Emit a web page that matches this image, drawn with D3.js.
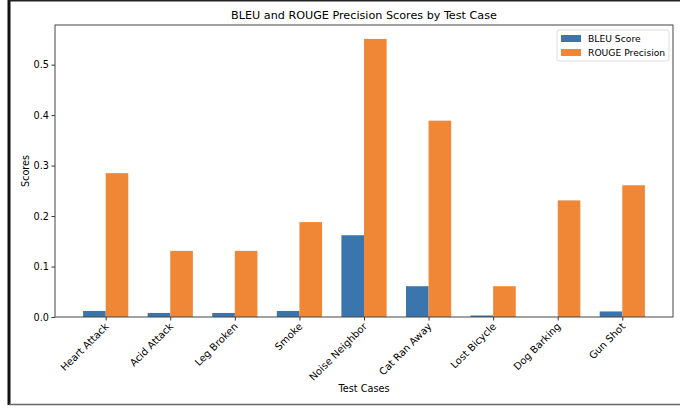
<!DOCTYPE html>
<html>
<head>
<meta charset="utf-8">
<script src="https://cdn.jsdelivr.net/npm/d3@7"></script>
<style>
  body { margin: 0; background: #fff; }
  svg, svg text { font-family: "DejaVu Sans", sans-serif; }
</style>
</head>
<body>
<svg id="chart" width="694" height="409"></svg>
<script>
// test cases and scores
var testCases = ['Heart Attack', 'Acid Attack', 'Leg Broken', 'Smoke', 'Noise Neighbor',
  'Cat Ran Away', 'Lost Bicycle', 'Dog Barking', 'Gun Shot'];
var bleuScores = [0.012, 0.008, 0.008, 0.012, 0.162, 0.061, 0.003, 0.0, 0.011];
var rougePrecision = [0.285, 0.131, 0.131, 0.188, 0.551, 0.389, 0.061, 0.231, 0.261];
var yTicks = [0.0, 0.1, 0.2, 0.3, 0.4, 0.5];
var seriesNames = ['BLEU Score', 'ROUGE Precision'];
var colors = ['#3a75ae', '#ef8736'];

var svg = d3.select('#chart');
var margin = { left: 55, right: 21, top: 25, bottom: 92 };
var w = 694 - margin.left - margin.right;
var h = 409 - margin.top - margin.bottom;
var barW = 0.35;

// screenshot frame around the figure
svg.append('line').attr('x1', 9).attr('x2', 9).attr('y1', 0).attr('y2', 405)
  .attr('stroke', '#111').attr('stroke-width', 3);
svg.append('line').attr('x1', 9).attr('x2', 680).attr('y1', 0.5).attr('y2', 0.5)
  .attr('stroke', '#222').attr('stroke-width', 2);
svg.append('line').attr('x1', 9).attr('x2', 680).attr('y1', 404.5).attr('y2', 404.5)
  .attr('stroke', '#666').attr('stroke-width', 1.5);

var g = svg.append('g').attr('transform', 'translate(' + margin.left + ',' + margin.top + ')');

// matplotlib-like margins: data from -0.35 to n-1+0.35, plus 5%
var lo = -barW, hi = testCases.length - 1 + barW;
var pad = (hi - lo) * 0.05;
var x = d3.scaleLinear().domain([lo - pad, hi + pad]).range([0, w]);
var yMax = d3.max(rougePrecision.concat(bleuScores)) * 1.05;
var y = d3.scaleLinear().domain([0, yMax]).range([h, 0]);

// bars
var series = [bleuScores, rougePrecision];
series.forEach(function (vals, s) {
  g.selectAll('.bar' + s)
    .data(vals)
    .enter()
    .append('rect')
    .attr('x', function (d, i) { return x(i - barW + s * barW); })
    .attr('width', x(barW) - x(0))
    .attr('y', function (d) { return y(d); })
    .attr('height', function (d) { return h - y(d); })
    .attr('fill', colors[s]);
});

// axes
var xAxis = d3.axisBottom(x)
  .tickValues(d3.range(testCases.length))
  .tickFormat(function (d) { return testCases[d]; })
  .tickSize(3.5).tickSizeOuter(0);
var yAxis = d3.axisLeft(y)
  .tickValues(yTicks)
  .tickFormat(d3.format('.1f'))
  .tickSize(3.5).tickSizeOuter(0);

var gx = g.append('g').attr('transform', 'translate(0,' + h + ')').call(xAxis);
gx.selectAll('text')
  .attr('font-size', 10)
  .attr('fill', '#000')
  .attr('text-anchor', 'end')
  .attr('x', 0).attr('y', 0)
  .attr('dy', '0.72em')
  .attr('transform', 'translate(-2,5) rotate(-45)');
var gy = g.append('g').call(yAxis);
gy.selectAll('text').attr('font-size', 9.7).attr('fill', '#000').attr('x', -6);

[gx, gy].forEach(function (a) {
  a.attr('font-family', '"DejaVu Sans", sans-serif');
  a.select('.domain').remove();
  a.selectAll('.tick line').attr('stroke', '#333');
});

// axes frame
g.append('rect').attr('width', w).attr('height', h)
  .attr('fill', 'none').attr('stroke', '#444').attr('stroke-width', 1);

// title and labels
svg.append('text').attr('x', margin.left + w / 2).attr('y', 19)
  .attr('text-anchor', 'middle').attr('font-size', 11.2).text('BLEU and ROUGE Precision Scores by Test Case');
svg.append('text').attr('x', margin.left + w / 2).attr('y', 392)
  .attr('text-anchor', 'middle').attr('font-size', 9.7).text('Test Cases');
svg.append('text').attr('transform', 'translate(29,' + (margin.top + h / 2) + ') rotate(-90)')
  .attr('text-anchor', 'middle').attr('font-size', 9.7).text('Scores');

// legend
var lg = svg.append('g').attr('transform', 'translate(557,30)');
lg.append('rect').attr('width', 112).attr('height', 31).attr('rx', 2)
  .attr('fill', '#fff').attr('stroke', '#ddd');
seriesNames.forEach(function (name, i) {
  lg.append('rect').attr('x', 4).attr('y', 5 + i * 14).attr('width', 20).attr('height', 7)
    .attr('fill', colors[i]);
  lg.append('text').attr('x', 31).attr('y', 11.5 + i * 14).attr('font-size', 9.2)
    .text(name);
});
</script>
</body>
</html>
